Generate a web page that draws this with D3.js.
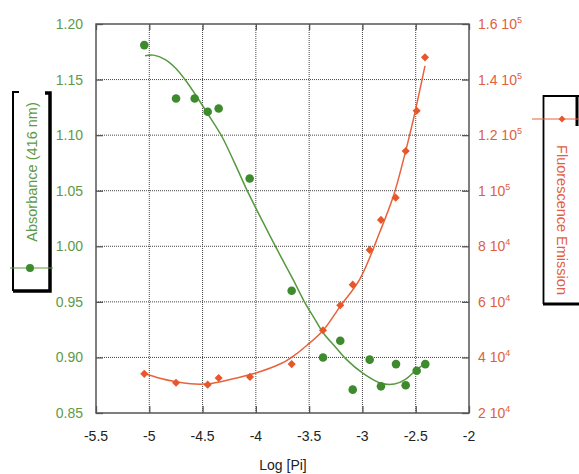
<!DOCTYPE html>
<html><head><meta charset="utf-8">
<script src="https://cdn.jsdelivr.net/npm/d3@7/dist/d3.min.js"></script>
<style>
html,body{margin:0;padding:0;background:#fff;}
svg{display:block;font-family:"Liberation Sans",Arial,sans-serif;}
</style></head>
<body>
<svg id="chart" width="579" height="474"></svg>
<script>
// ---- data ----
const xTicks = [-5.5, -5, -4.5, -4, -3.5, -3, -2.5, -2];
const xTickLabels = ["-5.5", "-5", "-4.5", "-4", "-3.5", "-3", "-2.5", "-2"];
const leftTicks = [0.85, 0.90, 0.95, 1.00, 1.05, 1.10, 1.15, 1.20];
const leftTickLabels = ["0.85", "0.90", "0.95", "1.00", "1.05", "1.10", "1.15", "1.20"];
const rightTicks = [20000, 40000, 60000, 80000, 100000, 120000, 140000, 160000];
const rightTickMantissa = ["2", "4", "6", "8", "1", "1.2", "1.4", "1.6"];
const rightTickExponent = ["4", "4", "4", "4", "5", "5", "5", "5"];

const absX = [-5.047, -4.749, -4.574, -4.452, -4.349, -4.058, -3.664, -3.370, -3.208, -3.091, -2.932, -2.826, -2.685, -2.594, -2.491, -2.410];
const absY = [1.181, 1.133, 1.133, 1.121, 1.124, 1.061, 0.960, 0.900, 0.915, 0.871, 0.898, 0.874, 0.894, 0.875, 0.888, 0.894];

const fluoX = [-5.047, -4.749, -4.452, -4.349, -4.055, -3.664, -3.370, -3.208, -3.091, -2.932, -2.826, -2.688, -2.594, -2.491, -2.413];
const fluoY = [34100, 30900, 30200, 32600, 33000, 37600, 49800, 58800, 66200, 78700, 89500, 97500, 114300, 128800, 148000];

const absFitX = [-5.04, -4.96, -4.85, -4.75, -4.665, -4.571, -4.45, -4.32, -4.20, -4.071, -3.945, -3.773, -3.65, -3.539, -3.45, -3.367, -3.25, -3.148, -3.0, -2.835, -2.70, -2.60, -2.491, -2.42];
const absFitY = [1.1715, 1.172, 1.168, 1.160, 1.150, 1.137, 1.119, 1.099, 1.075, 1.048, 1.024, 0.992, 0.970, 0.949, 0.935, 0.922, 0.909, 0.898, 0.886, 0.877, 0.876, 0.880, 0.889, 0.894];

const fluoFitX = [-5.05, -4.90, -4.759, -4.571, -4.446, -4.259, -4.008, -3.758, -3.633, -3.523, -3.367, -3.210, -3.023, -2.835, -2.710, -2.616, -2.523, -2.413];
const fluoFitY = [34300, 32500, 31300, 30400, 30500, 31900, 34300, 37900, 40900, 44300, 49800, 58300, 68300, 85300, 98000, 111000, 125500, 144900];

const absLabel = "Absorbance (416 nm)";
const fluoLabel = "Fluorescence Emission";
const xTitle = "Log [Pi]";

// ---- style ----
const GREEN_TXT = "#5e9a45", GREEN_DOT = "#3e8b2e", GREEN_LINE = "#56993f";
const ORANGE_TXT = "#e0603f", ORANGE_DOT = "#e8562a", ORANGE_LINE = "#e8623c";
const L = 96, R = 469, T = 24, B = 413;

const svg = d3.select("#chart");
const x = d3.scaleLinear().domain([-5.5, -2]).range([L, R]);
const yL = d3.scaleLinear().domain([0.85, 1.20]).range([B, T]);
const yR = d3.scaleLinear().domain([20000, 160000]).range([B, T]);

// gridlines
const grid = svg.append("g");
grid.selectAll("line.gv").data(xTicks.slice(1, -1)).enter().append("line")
  .attr("x1", d => x(d)).attr("x2", d => x(d)).attr("y1", T).attr("y2", B)
  .attr("stroke", "#444").attr("stroke-width", 1).attr("stroke-dasharray", "1,1");
grid.selectAll("line.gh").data(leftTicks.slice(1, -1)).enter().append("line")
  .attr("x1", L).attr("x2", R).attr("y1", d => yL(d)).attr("y2", d => yL(d))
  .attr("stroke", "#444").attr("stroke-width", 1).attr("stroke-dasharray", "1,1");

// axes with inner ticks
const tickCol = "#555";
const axB = svg.append("g").attr("transform", `translate(0,${B})`)
  .call(d3.axisTop(x).tickValues(xTicks).tickSize(7).tickFormat(""));
const axT = svg.append("g").attr("transform", `translate(0,${T})`)
  .call(d3.axisBottom(x).tickValues(xTicks).tickSize(6).tickFormat(""));
const axL = svg.append("g").attr("transform", `translate(${L},0)`)
  .call(d3.axisRight(yL).tickValues(leftTicks).tickSize(7).tickFormat(""));
const axR = svg.append("g").attr("transform", `translate(${R},0)`)
  .call(d3.axisLeft(yR).tickValues(rightTicks).tickSize(7).tickFormat(""));
[axB, axT, axL, axR].forEach(a => {
  a.select(".domain").remove();
  a.selectAll(".tick line").attr("stroke", tickCol).attr("stroke-width", 1.3);
});
svg.append("rect").attr("x", L).attr("y", T).attr("width", R - L).attr("height", B - T)
  .attr("fill", "none").attr("stroke", tickCol).attr("stroke-width", 1.5);

// tick labels
svg.selectAll("text.xl").data(xTicks).enter().append("text")
  .attr("x", d => x(d)).attr("y", 441).attr("text-anchor", "middle")
  .attr("font-size", 14).attr("fill", "#222")
  .text((d, i) => xTickLabels[i]);
svg.selectAll("text.yl").data(leftTicks).enter().append("text")
  .attr("x", 83).attr("y", d => yL(d) + 5).attr("text-anchor", "end")
  .attr("font-size", 14).attr("fill", GREEN_TXT)
  .text((d, i) => leftTickLabels[i]);
const rt = svg.selectAll("text.yr").data(rightTicks).enter().append("text")
  .attr("x", 478).attr("y", d => yR(d) + 5)
  .attr("font-size", 14).attr("fill", ORANGE_TXT);
rt.append("tspan").text((d, i) => rightTickMantissa[i] + " 10");
rt.append("tspan").attr("dy", -6).attr("font-size", 9).text((d, i) => rightTickExponent[i]);

svg.append("text").attr("x", 283).attr("y", 470).attr("text-anchor", "middle")
  .attr("font-size", 14).attr("fill", "#222").text(xTitle);

// fit curves
const absLine = d3.line().x(d => x(d[0])).y(d => yL(d[1])).curve(d3.curveCatmullRom.alpha(0.5));
const fluoLine = d3.line().x(d => x(d[0])).y(d => yR(d[1])).curve(d3.curveCatmullRom.alpha(0.5));
svg.append("path").attr("d", absLine(d3.zip(absFitX, absFitY)))
  .attr("fill", "none").attr("stroke", GREEN_LINE).attr("stroke-width", 1.5);
svg.append("path").attr("d", fluoLine(d3.zip(fluoFitX, fluoFitY)))
  .attr("fill", "none").attr("stroke", ORANGE_LINE).attr("stroke-width", 1.5);

// markers
svg.selectAll("circle.abs").data(d3.zip(absX, absY)).enter().append("circle")
  .attr("cx", d => x(d[0])).attr("cy", d => yL(d[1])).attr("r", 4.3)
  .attr("fill", GREEN_DOT);
const diamond = d3.symbol().type(d3.symbolDiamond2).size(42);
svg.selectAll("path.fluo").data(d3.zip(fluoX, fluoY)).enter().append("path")
  .attr("d", diamond).attr("transform", d => `translate(${x(d[0])},${yR(d[1])})`)
  .attr("fill", ORANGE_DOT);

// left legend box
const lg = svg.append("g");
lg.append("path").attr("d", "M19,92 H13 V291").attr("fill", "none").attr("stroke", "#000").attr("stroke-width", 2);
lg.append("path").attr("d", "M45,93 H50 V291 H13").attr("fill", "none").attr("stroke", "#000").attr("stroke-width", 3.5);
lg.append("line").attr("x1", 10).attr("x2", 53).attr("y1", 268).attr("y2", 268).attr("stroke", GREEN_LINE).attr("stroke-width", 1);
lg.append("circle").attr("cx", 30).attr("cy", 268).attr("r", 4).attr("fill", GREEN_DOT);
lg.append("text").attr("transform", "translate(37,172) rotate(-90)").attr("text-anchor", "middle")
  .attr("font-size", 14.5).attr("fill", GREEN_TXT).text(absLabel);

// right legend box
const rg = svg.append("g");
rg.append("path").attr("d", "M579,96 H543.5 V304").attr("fill", "none").attr("stroke", "#000").attr("stroke-width", 1.8);
rg.append("path").attr("d", "M543,304 H579").attr("fill", "none").attr("stroke", "#000").attr("stroke-width", 3);
rg.append("path").attr("d", "M577,96 V126").attr("fill", "none").attr("stroke", "#000").attr("stroke-width", 3);
rg.append("line").attr("x1", 532).attr("x2", 579).attr("y1", 119).attr("y2", 119).attr("stroke", ORANGE_LINE).attr("stroke-width", 1);
rg.append("path").attr("d", d3.symbol().type(d3.symbolDiamond2).size(30)).attr("transform", "translate(562,119)").attr("fill", ORANGE_DOT);
rg.append("text").attr("transform", "translate(557,220) rotate(90)").attr("text-anchor", "middle")
  .attr("font-size", 14.5).attr("fill", ORANGE_TXT).text(fluoLabel);
</script>
</body></html>
